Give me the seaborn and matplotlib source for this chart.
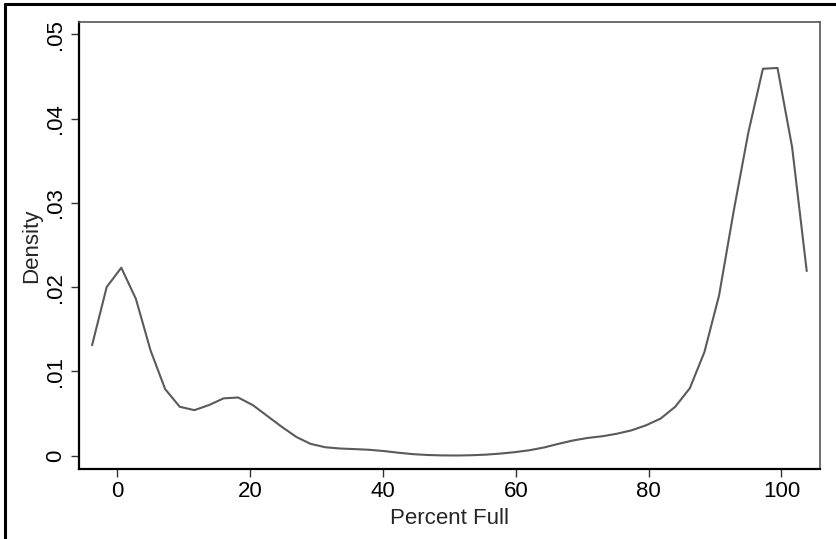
import matplotlib
matplotlib.use("Agg")
import matplotlib.pyplot as plt
import seaborn as sns
import pandas as pd

# ------------------------------------------------------------
# kernel density estimate (50 points)
# ------------------------------------------------------------
percent_full = [-3.8, -1.6, 0.6, 2.8, 5.0, 7.2, 9.4, 11.6, 13.8, 16.0,
                18.2, 20.4, 22.6, 24.8, 27.0, 29.1, 31.3, 33.5, 35.7, 37.9,
                40.1, 42.3, 44.5, 46.7, 48.9, 51.1, 53.3, 55.5, 57.7, 59.9,
                62.1, 64.3, 66.4, 68.6, 70.8, 73.0, 75.2, 77.4, 79.6, 81.8,
                84.0, 86.2, 88.4, 90.6, 92.8, 95.0, 97.2, 99.4, 101.6, 103.8]
density = [0.0131, 0.0200, 0.0223, 0.0186, 0.0125, 0.0079, 0.0058, 0.0054, 0.0060, 0.0068,
           0.0069, 0.0060, 0.0047, 0.0034, 0.0022, 0.0014, 0.0010, 0.00085, 0.00078, 0.00070,
           0.00055, 0.00035, 0.00018, 0.00008, 0.00003, 0.00002, 0.00005, 0.00012, 0.00025, 0.00042,
           0.00065, 0.00098, 0.0014, 0.0018, 0.0021, 0.0023, 0.0026, 0.0030, 0.0036, 0.0044,
           0.0058, 0.0080, 0.0123, 0.0190, 0.0290, 0.0383, 0.0459, 0.0460, 0.0366, 0.0219]

x_ticks = [0, 20, 40, 60, 80, 100]
y_ticks = [0, 0.01, 0.02, 0.03, 0.04, 0.05]
y_tick_labels = ["0", ".01", ".02", ".03", ".04", ".05"]

df = pd.DataFrame({"x": percent_full, "y": density})

sns.set_style("white")
plt.rcParams['font.family'] = ['Liberation Sans', 'DejaVu Sans']

fig = plt.figure(figsize=(8.37, 5.39), dpi=100)
ax = fig.add_axes([0.0938, 0.1299, 0.8859, 0.8293])

sns.lineplot(data=df, x="x", y="y", ax=ax, color="#5a5a5a", linewidth=1.5,
             estimator=None, sort=False)

ax.set_xlim(-5.84, 105.8)
ax.set_ylim(-0.00158, 0.05145)
ax.set_xticks(x_ticks)
ax.set_xticklabels([str(t) for t in x_ticks])
ax.set_yticks(y_ticks)
ax.set_yticklabels(y_tick_labels, rotation=90, va="center")

ax.tick_params(axis="both", direction="out", length=6, width=1.0,
               color="#333333", labelsize=16, labelcolor="black")
ax.tick_params(axis="x", pad=3, bottom=True)
ax.tick_params(axis="y", pad=3, left=True)

ax.set_xlabel("Percent Full", fontsize=16, labelpad=4)
ax.set_ylabel("Density", fontsize=16, labelpad=2)

for side in ["left", "bottom"]:
    ax.spines[side].set_color("black")
    ax.spines[side].set_linewidth(1.6)
for side in ["top", "right"]:
    ax.spines[side].set_color("#555555")
    ax.spines[side].set_linewidth(1.2)

# outer frame (left and top edges visible in the reference)
fig.add_artist(plt.Line2D([0.006, 0.006], [0.0, 0.9925], transform=fig.transFigure,
                          color="black", linewidth=2.2))
fig.add_artist(plt.Line2D([0.006, 1.0], [0.9925, 0.9925], transform=fig.transFigure,
                          color="black", linewidth=2.2))

fig.savefig("out.png", dpi=100)
